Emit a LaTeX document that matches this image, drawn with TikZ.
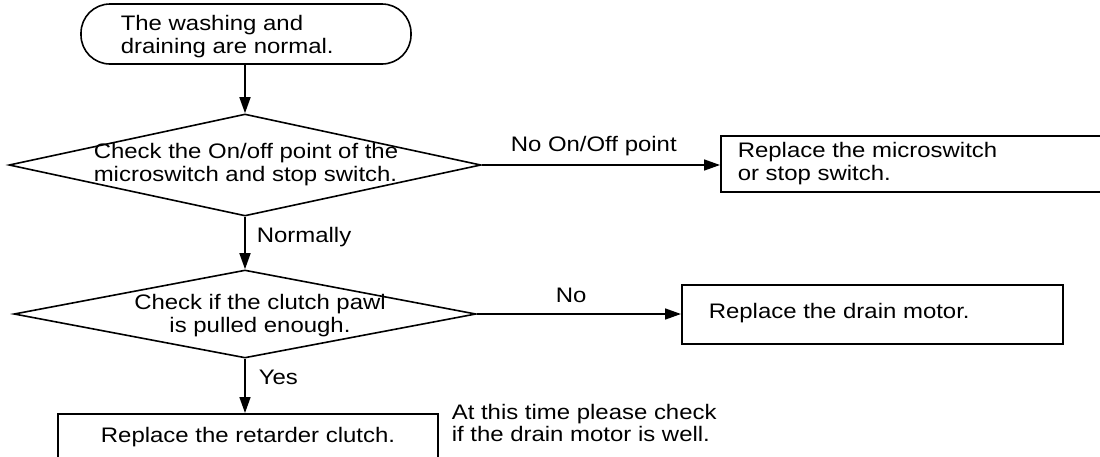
\documentclass[tikz,border=0pt]{standalone}
\usepackage{fontspec}
\setmainfont{Liberation Sans}[FakeStretch=1.14]
\usetikzlibrary{shapes.geometric,arrows.meta}
\begin{document}
\begin{tikzpicture}[x=1pt,y=-1pt,line width=1.6pt,
  txt/.style={font=\fontsize{21}{23}\selectfont,inner sep=0pt,align=left},
  arr/.style={-{Triangle[length=16pt,width=11pt]}},
  box/.style={draw,inner sep=0pt,anchor=north west},
  dec/.style={diamond,draw,inner sep=0pt}]
\useasboundingbox (0,0) rectangle (1100,456);
% terminal
\node[draw,rounded corners=29pt,minimum width=330pt,minimum height=60pt,inner sep=0pt] (start) at (246,34) {};
\node[txt,anchor=west] (startt) at (120,36.5) {The washing and\\draining are normal.};
% decision 1
\node[dec,minimum width=472pt,minimum height=102pt] (d1) at (245,165) {};
\node[txt,anchor=west] (d1t) at (93,165) {Check the On/off point of the\\microswitch and stop switch.};
% box 1
\node[box,minimum width=400pt,minimum height=56pt] (b1) at (720,135) {};
\node[txt,anchor=west] (b1t) at (737,163.5) {Replace the microswitch\\or stop switch.};
% decision 2
\node[dec,minimum width=462pt,minimum height=88pt] (d2) at (245,314) {};
\node[txt,align=center] (d2t) at (260,316) {Check if the clutch pawl\\is pulled enough.};
% box 2
\node[box,minimum width=381pt,minimum height=59pt] (b2) at (681,284) {};
\node[txt,anchor=west] (b2t) at (708,313) {Replace the drain motor.};
% box 3
\node[box,minimum width=380pt,minimum height=60pt] (b3) at (57,413) {};
\node[txt] (b3t) at (248,437) {Replace the retarder clutch.};
% note
\node[txt,anchor=west,font=\fontsize{21}{22}\selectfont] (note) at (451,423) {At this time please check\\if the drain motor is well.};
% connectors
\draw[arr] (start.south -| d1.north) -- (d1.north);
\draw[arr] (d1.east) -- (d1.east -| b1.west);
\draw[arr] (d1.south) -- (d2.north);
\draw[arr] (d2.east) -- (d2.east -| b2.west);
\draw[arr] (d2.south) -- (d2.south |- b3.north);
% labels
\node[txt,anchor=west] (l1) at (510,146) {No On/Off point};
\node[txt,anchor=west] (l2) at (256,237) {Normally};
\node[txt,anchor=west] (l3) at (555,295) {No};
\node[txt,anchor=west] (l4) at (258,377) {Yes};
\end{tikzpicture}
\end{document}
